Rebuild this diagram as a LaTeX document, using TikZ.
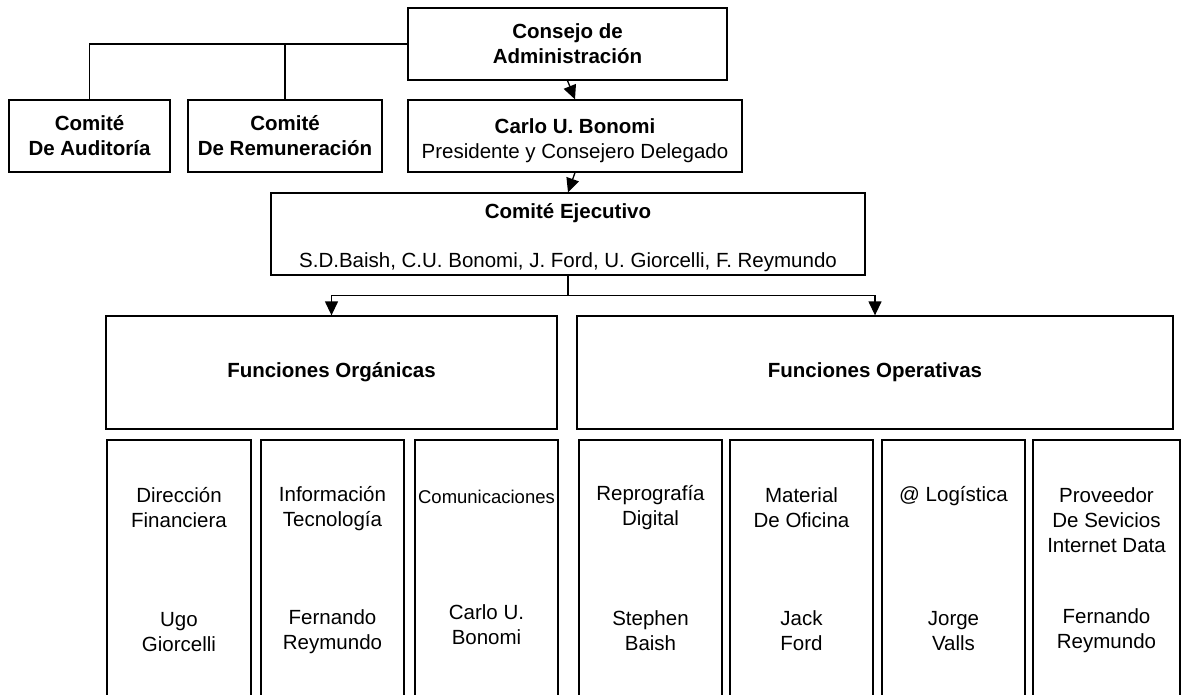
\documentclass[tikz,border=0pt]{standalone}
\usepackage{fontspec}
\setmainfont{Liberation Sans}
\usetikzlibrary{arrows.meta}
\begin{document}
\begin{tikzpicture}[x=1pt,y=-1pt,
  box/.style={draw,line width=1.3pt,inner sep=0pt,align=center,font=\fontsize{20.5}{25}\selectfont},
  bbox/.style={box,font=\fontsize{20.5}{25}\selectfont\bfseries},
  colbox/.style={draw,line width=1.3pt,inner sep=0pt,minimum height=300pt},
  txt/.style={align=center,inner sep=0pt,font=\fontsize{20.5}{25}\selectfont},
  link/.style={line width=1.3pt},
  arr/.style={link,-{Triangle[length=14pt,width=13pt]}}]
\useasboundingbox (0,0) rectangle (1183,695);
\clip (0,0) rectangle (1183,695);
% top level
\node[bbox,minimum width=319pt,minimum height=72pt] (cons) at (567.5,44) {Consejo de\\Administración};
\node[bbox,minimum width=161pt,minimum height=72pt] (aud) at (89.5,136) {Comité\\De Auditoría};
\node[bbox,minimum width=194pt,minimum height=72pt] (rem) at (285,136) {Comité\\De Remuneración};
\node[box,minimum width=334pt,minimum height=72pt] (carlo) at (575,136) {};
\node[txt] (carlot) at (575,141) {\textbf{Carlo U. Bonomi}\\Presidente y Consejero Delegado};
\node[box,minimum width=594pt,minimum height=82pt] (ejec) at (568,234) {};
\node[txt,font=\fontsize{20.5}{25}\selectfont\bfseries] (ejt) at (568,213) {Comité Ejecutivo};
\node[txt] (ejm) at (568,262) {S.D.Baish, C.U. Bonomi, J. Ford, U. Giorcelli, F. Reymundo};
\node[bbox,minimum width=451pt,minimum height=113pt] (orga) at (331.5,372.5) {Funciones Orgánicas};
\node[bbox,minimum width=596pt,minimum height=113pt] (oper) at (875,372.5) {Funciones Operativas};
% connectors
\draw[link] (cons.west) -| (aud.north);
\draw[link] (cons.west) -| (rem.north);
\draw[arr] (cons.south) -- (carlo.north);
\draw[arr] (carlo.south) -- (ejec.north);
\path (ejec.south) ++(0,20) coordinate (split);
\draw[link] (ejec.south) -- (split);
\draw[arr] (split) -| (orga.north);
\draw[arr] (split) -| (oper.north);
% bottom columns
\node[colbox,minimum width=144pt] (c1) at (179,590) {};
\node[colbox,minimum width=143pt] (c2) at (332.5,590) {};
\node[colbox,minimum width=143pt] (c3) at (486.5,590) {};
\node[colbox,minimum width=143pt] (c4) at (650.5,590) {};
\node[colbox,minimum width=143pt] (c5) at (801.5,590) {};
\node[colbox,minimum width=143pt] (c6) at (953.5,590) {};
\node[colbox,minimum width=147pt] (c7) at (1106.5,590) {};
\node[txt] (c1a) at (179,508) {Dirección\\Financiera};
\node[txt] (c1b) at (179,632) {Ugo\\Giorcelli};
\node[txt] (c2a) at (332.5,509) {Información\\Tecnología};
\node[txt] (c2b) at (332.5,632) {Fernando\\Reymundo};
\node[txt,font=\fontsize{18.5}{22}\selectfont] (c3a) at (486.5,497) {Comunicaciones};
\node[txt] (c3b) at (486.5,625) {Carlo U.\\Bonomi};
\node[txt] (c4a) at (650.5,508) {Reprografía\\Digital};
\node[txt] (c4b) at (650.5,631) {Stephen\\Baish};
\node[txt] (c5a) at (801.5,508) {Material\\De Oficina};
\node[txt] (c5b) at (801.5,631) {Jack\\Ford};
\node[txt] (c6a) at (953.5,496) {@ Logística};
\node[txt] (c6b) at (953.5,631) {Jorge\\Valls};
\node[txt] (c7a) at (1106.5,520) {Proveedor\\De Sevicios\\Internet Data};
\node[txt] (c7b) at (1106.5,631) {Fernando\\Reymundo};
\end{tikzpicture}
\end{document}
